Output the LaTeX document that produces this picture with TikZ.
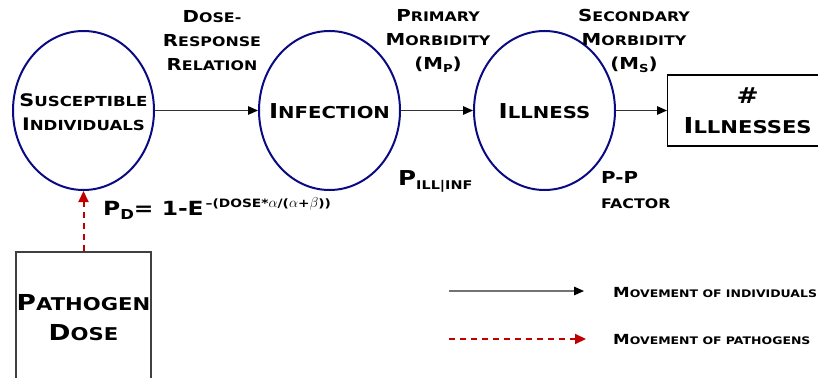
\documentclass[tikz,border=0pt]{standalone}
\usepackage{fontspec}
\setmainfont{DejaVu Sans}[FakeStretch=1.2]
\usetikzlibrary{arrows.meta,shapes.geometric}
\definecolor{ringblue}{RGB}{10,10,130}
\definecolor{pathred}{RGB}{192,0,0}
\makeatletter
% capital letter followed by smaller capitals (small-caps look)
\newcommand\capsc[2]{#1{\fontsize{\fpeval{0.8*\f@size}}{0}\selectfont #2}}
\makeatother
\newcommand\fsz[2]{\fontsize{#1}{#2}\selectfont}
\begin{document}
\begin{tikzpicture}[x=1pt,y=-1pt,
  ring/.style={ellipse, draw=ringblue, line width=2pt, minimum width=141pt,
    minimum height=159pt, inner sep=0pt},
  stage/.style={align=center, inner sep=0pt, font=\bfseries\fsz{20.5}{30}},
  lbl/.style={align=center, inner sep=0pt, font=\bfseries\fsz{16.5}{24}},
  boxnode/.style={draw, line width=1.3pt, inner sep=0pt, align=center,
    font=\bfseries\fsz{22}{30}},
  indarrow/.style={draw=black!80, line width=1.2pt,
    -{Triangle[length=10pt,width=8.5pt,black]}},
  legind/.style={draw=black!55, line width=1.5pt,
    -{Triangle[length=10pt,width=8.5pt,black]}},
  patharrow/.style={draw=pathred, line width=2pt, dash pattern=on 6pt off 5pt,
    -{Triangle[length=11pt,width=10pt,pathred]}},
  legtext/.style={anchor=base west, inner sep=0pt, font=\bfseries\fsz{13.9}{16}}]
\clip (0,0) rectangle (818,377);

% stages (outline and caption as separate nodes so the caption never resizes the ring)
\node[ring] (sus) at (83.5,110.5) {};
\node[ring] (inf) at (329.5,110.5) {};
\node[ring] (ill) at (544.5,110.5) {};
\node[lbl, font=\bfseries\fsz{17.3}{24}] (sust) at (83.5,112) {\capsc{S}{USCEPTIBLE}\\\capsc{I}{NDIVIDUALS}};
\node[stage] (inft) at (329.5,111.5) {\capsc{I}{NFECTION}};
\node[stage] (illt) at (544.5,111.5) {\capsc{I}{LLNESS}};
\node[boxnode, anchor=west, minimum width=160pt, minimum height=71pt] (cnt)
  at (667,110.5) {\#\\\capsc{I}{LLNESSES}};
\node[boxnode, draw=black!75, minimum width=135pt, minimum height=132pt] (dose)
  at (83.5,318) {\capsc{P}{ATHOGEN}\\\capsc{D}{OSE}};

% transitions
\draw[indarrow] (sus) -- (inf);
\draw[indarrow] (inf) -- (ill);
\draw[indarrow] (ill) -- (cnt);
\draw[patharrow] (dose) -- (sus);

% parameter labels
\node[lbl] (dr) at (212,41) {\capsc{D}{OSE-}\\\capsc{R}{ESPONSE}\\\capsc{R}{ELATION}};
\node[lbl] (pm) at (438,41) {\capsc{P}{RIMARY}\\\capsc{M}{ORBIDITY}\\(M{\fsz{11}{12}\raisebox{-0.4ex}{P}})};
\node[lbl] (sm) at (634,41) {\capsc{S}{ECONDARY}\\\capsc{M}{ORBIDITY}\\(M{\fsz{11}{12}\raisebox{-0.4ex}{S}})};
\node[anchor=base west, inner sep=0pt, font=\bfseries\fsz{20.5}{24}] (pill)
  at (398,185) {P{\fsz{12}{12}\raisebox{-0.7ex}{ILL|INF}}};
\node[anchor=base west, inner sep=0pt, align=left, font=\bfseries\fsz{16.5}{25}] (pp)
  at (601,208) {P-P\\{\fsz{13.2}{16}FACTOR}};
\node[anchor=base west, inner sep=0pt, font=\bfseries\fsz{19.5}{24}] (pd)
  at (103,215) {P{\fsz{13.7}{14}\raisebox{-0.55ex}{D}}= 1-E{\fsz{11.5}{12}\raisebox{1.25ex}{\,–(DOSE*\fsz{15}{14}$\alpha$\fsz{11.5}{12}/(\fsz{15}{14}$\alpha$\fsz{11.5}{12}+\fsz{15}{14}$\beta$\fsz{11.5}{12}))}}};

% legend
\coordinate (l1a) at (449,291);
\coordinate (l1b) at (584,291);
\coordinate (l2a) at (449,339);
\coordinate (l2b) at (586,339);
\draw[legind] (l1a) -- (l1b);
\draw[patharrow] (l2a) -- (l2b);
\node[legtext] (t1) at (613,297) {M{\fsz{10.4}{12}OVEMENT OF INDIVIDUALS}};
\node[legtext] (t2) at (613,344) {M{\fsz{10.4}{12}OVEMENT OF PATHOGENS}};
\end{tikzpicture}
\end{document}
